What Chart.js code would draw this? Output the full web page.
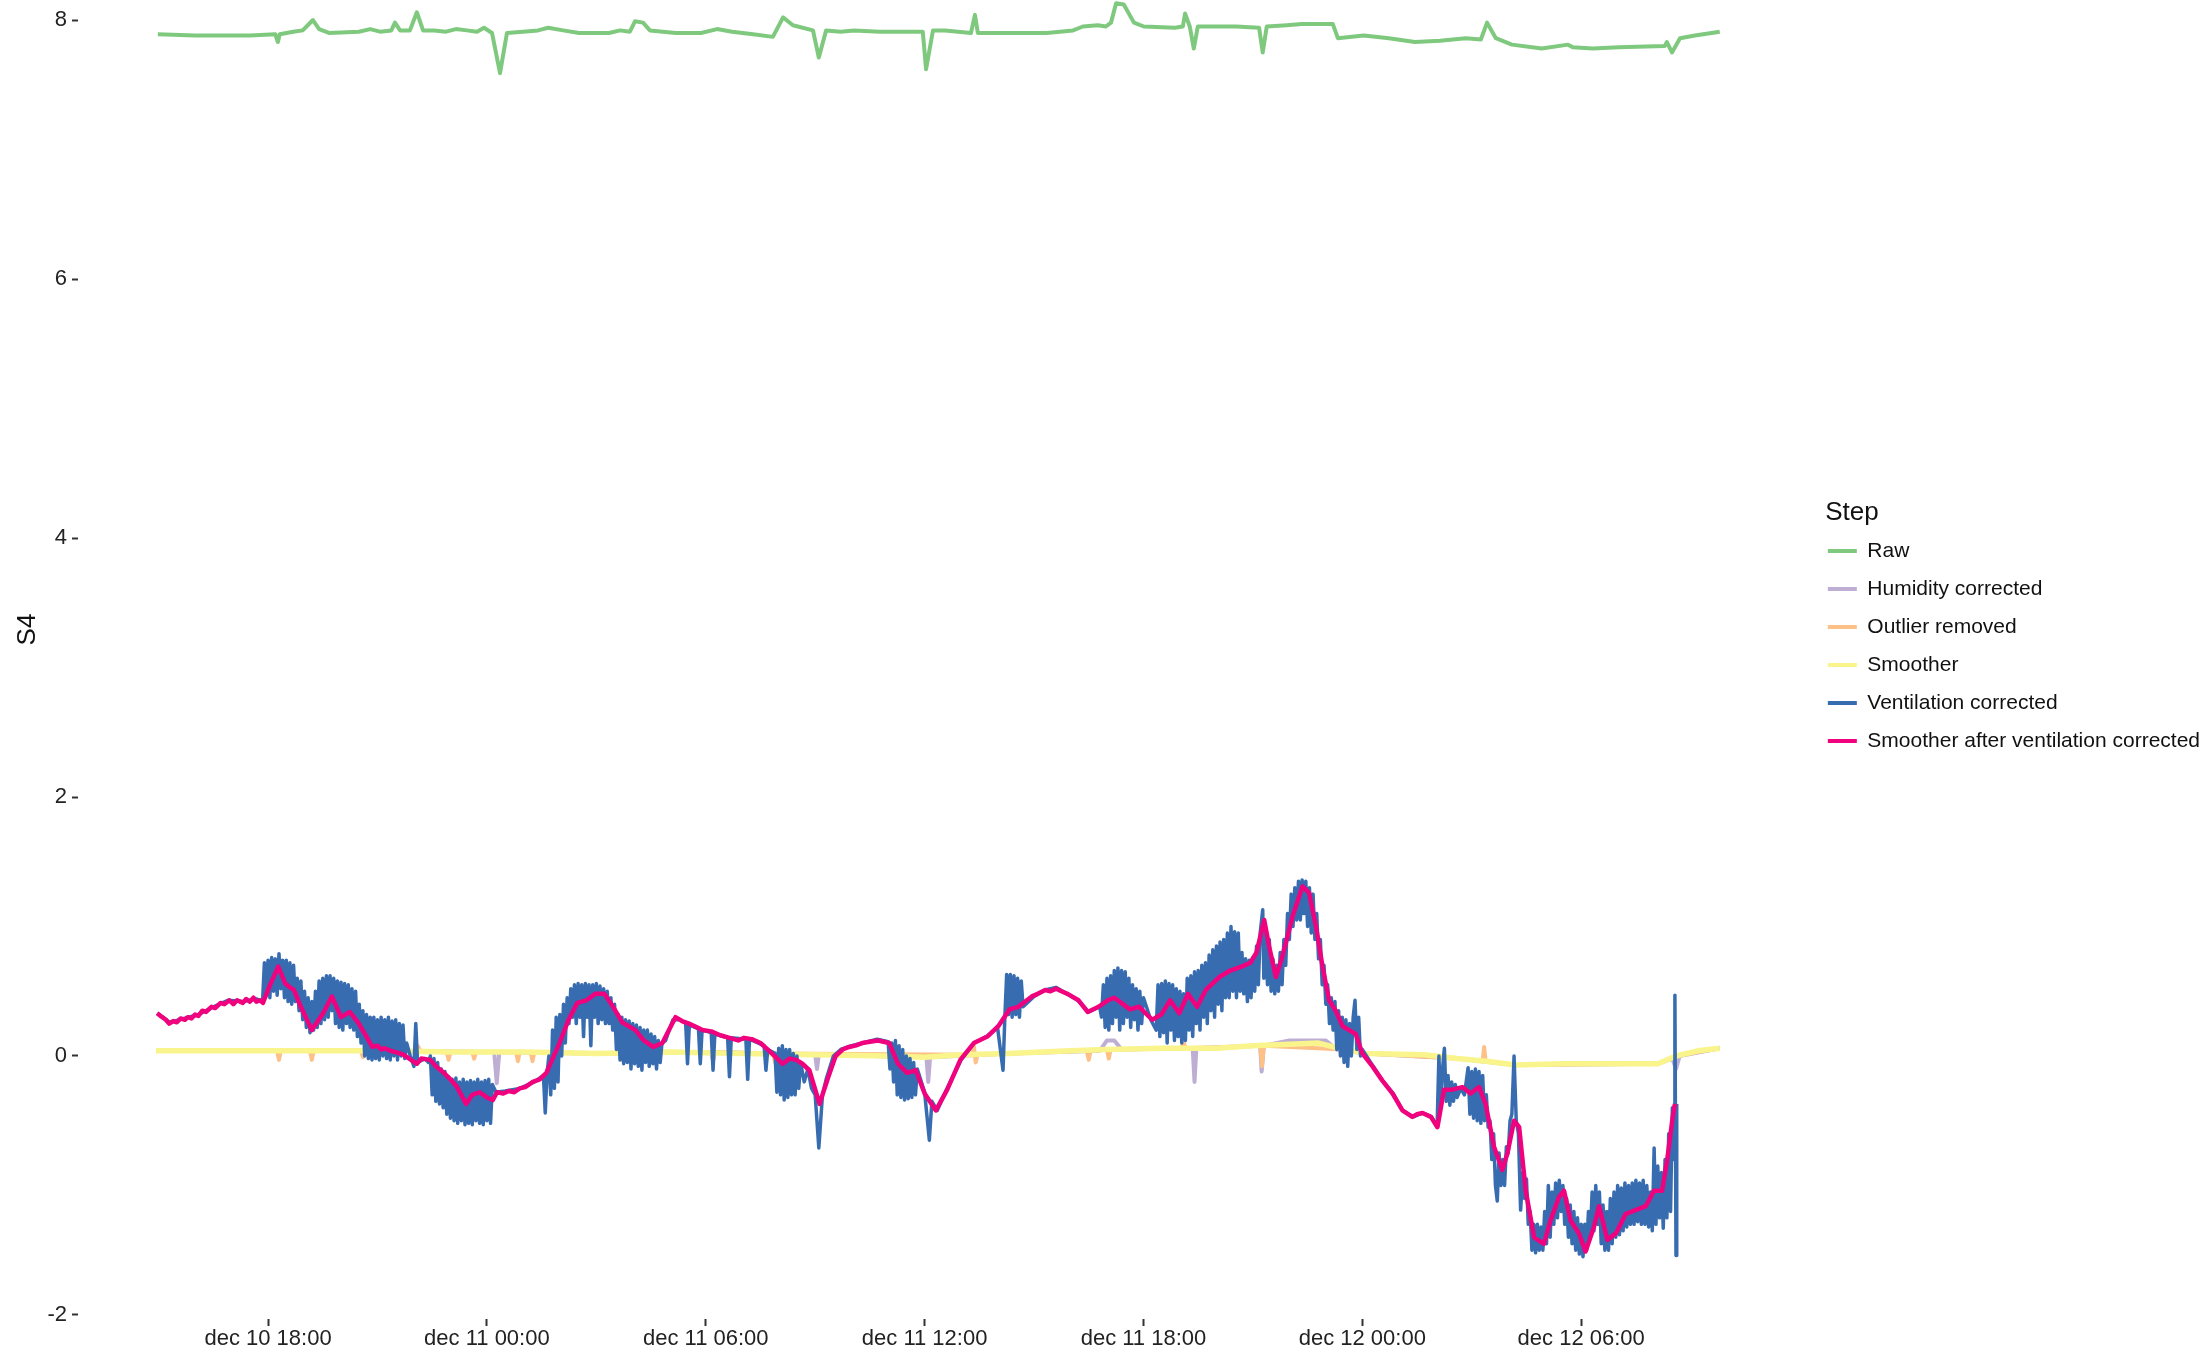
<!DOCTYPE html>
<html>
<head>
<meta charset="utf-8">
<title>S4 processing steps</title>
<script src="https://cdn.jsdelivr.net/npm/chart.js@4.4.1/dist/chart.umd.min.js"></script>
<style>
  html, body { margin: 0; padding: 0; background: #fff; overflow: hidden; }
  #wrap { position: absolute; left: 0; top: -90px; width: 2210px; height: 1444px; }
</style>
</head>
<body>
<div id="wrap"><canvas id="chart" width="2210" height="1444"></canvas></div>
<script>
// hours counted from dec 10 00:00
var xTickHours = [18, 24, 30, 36, 42, 48, 54];
var xTickLabels = ['dec 10 18:00', 'dec 11 00:00', 'dec 11 06:00', 'dec 11 12:00',
                   'dec 11 18:00', 'dec 12 00:00', 'dec 12 06:00'];
var yTicks = [-2, 0, 2, 4, 6, 8];
var xMin = 12.79, xMax = 59.94;
var yMin = -2.031, yMax = 8.618;

var stepNames = ['Raw', 'Humidity corrected', 'Outlier removed', 'Smoother',
                 'Ventilation corrected', 'Smoother after ventilation corrected'];
// Accent palette
var stepColors = ['#7fc97f', '#beaed4', '#fdc086', '#f9f48c', '#386cb0', '#f0027f'];

// [hour, value]
var raw = [
  [14.98,7.89],[16.0,7.88],[17.5,7.88],[18.2,7.89],[18.27,7.83],[18.32,7.89],[18.69,7.91],[18.95,7.92],[19.23,8.0],
  [19.4,7.93],[19.67,7.9],[20.49,7.91],[20.8,7.93],[21.07,7.91],[21.38,7.92],[21.48,7.98],[21.62,7.92],[21.89,7.92],
  [22.08,8.06],[22.25,7.92],[22.55,7.92],[22.88,7.91],[23.15,7.93],[23.45,7.92],[23.73,7.91],[23.92,7.94],[24.14,7.9],
  [24.36,7.59],[24.55,7.9],[24.99,7.91],[25.4,7.92],[25.68,7.94],[26.09,7.92],[26.53,7.9],[27.35,7.9],[27.65,7.92],
  [27.92,7.91],[28.06,7.99],[28.28,7.98],[28.47,7.92],[29.18,7.9],[29.87,7.9],[30.31,7.93],[30.72,7.91],
  [31.3,7.89],[31.84,7.87],[32.12,8.02],[32.39,7.96],[32.94,7.92],[33.1,7.71],[33.3,7.92],[33.7,7.91],[34.06,7.92],
  [34.78,7.91],[35.46,7.91],[35.95,7.91],[36.04,7.62],[36.23,7.92],[36.56,7.92],[37.27,7.9],[37.38,8.04],[37.46,7.9],
  [38.26,7.9],[39.35,7.9],[40.07,7.92],[40.34,7.95],[40.75,7.96],[40.97,7.95],[41.11,7.98],[41.25,8.13],
  [41.46,8.12],[41.74,7.98],[42.01,7.95],[42.86,7.94],[43.08,7.95],[43.14,8.05],[43.27,7.95],[43.38,7.78],
  [43.49,7.95],[44.54,7.95],[45.17,7.94],[45.27,7.75],[45.38,7.95],[45.93,7.96],[46.34,7.97],[47.19,7.97],
  [47.33,7.86],[48.04,7.88],[48.73,7.86],[49.44,7.83],[50.13,7.84],[50.84,7.86],[51.25,7.85],[51.42,7.98],
  [51.66,7.86],[52.1,7.81],[52.92,7.78],[53.64,7.81],[53.77,7.79],[54.32,7.78],[55.03,7.79],[56.29,7.8],
  [56.35,7.83],[56.49,7.75],[56.71,7.86],[57.12,7.88],[57.8,7.91]
];

var humidityCorrected = [
  [14.93,0.04],[18.0,0.04],[21.0,0.04],[24.2,0.03],[24.27,-0.21],[24.34,0.03],[27.0,0.02],[30.0,0.03],
  [33.0,0.01],[33.05,-0.1],[33.1,0.01],[36.05,-0.01],[36.1,-0.2],[36.15,-0.01],[38.3,0.02],[40.8,0.04],
  [41.0,0.12],[41.2,0.12],[41.4,0.05],[43.35,0.06],[43.4,-0.2],[43.45,0.06],[45.2,0.08],[45.24,-0.12],
  [45.3,0.08],[46.0,0.12],[47.0,0.12],[47.3,0.05],[48.1,0.02],[50.6,-0.02],[52.2,-0.07],[56.1,-0.06],
  [56.5,-0.02],[56.6,-0.1],[56.7,0.0],[57.8,0.06]
];

var outlierRemoved = [
  [14.93,0.04],[18.25,0.04],[18.3,-0.03],[18.35,0.04],[19.15,0.04],[19.2,-0.03],[19.25,0.04],[20.55,0.04],
  [20.6,-0.01],[20.65,0.04],[22.0,0.03],[22.1,0.08],[22.2,0.03],[22.9,0.03],[22.95,-0.03],[23.0,0.03],
  [23.6,0.03],[23.65,-0.02],[23.7,0.03],[24.8,0.03],[24.85,-0.04],[24.9,0.03],[25.2,0.03],[25.25,-0.04],
  [25.3,0.03],[27.65,0.02],[27.7,-0.03],[27.75,0.02],[30.15,0.03],[30.2,-0.04],[30.25,0.03],[31.85,0.02],
  [31.9,-0.05],[31.95,0.02],[37.3,0.01],[37.35,0.08],[37.4,-0.05],[37.45,0.01],[40.45,0.04],[40.5,-0.03],
  [40.55,0.04],[41.0,0.05],[41.05,-0.02],[41.1,0.05],[43.05,0.06],[43.1,0.11],[43.15,0.06],[45.2,0.08],
  [45.25,-0.08],[45.3,0.08],[47.5,0.05],[48.1,0.02],[50.6,-0.02],[51.3,-0.04],[51.34,0.07],[51.38,-0.04],
  [52.2,-0.07],[56.1,-0.06],[56.6,0.0],[57.8,0.06]
];

var smoother = [
  [14.93,0.04],[17,0.04],[19,0.04],[21,0.04],[23,0.03],[25,0.03],[27,0.02],[29,0.03],[31,0.02],[33,0.01],
  [35,0.0],[36,-0.01],[37,0.01],[38.3,0.02],[40,0.04],[41,0.05],[42.5,0.06],[44,0.06],[45,0.08],[46,0.09],
  [46.8,0.1],[47.5,0.05],[48.1,0.02],[49.7,0.01],[50.6,-0.02],[51.4,-0.04],[52.2,-0.07],[53.5,-0.06],
  [55,-0.06],[56.1,-0.06],[56.6,0.0],[57.2,0.04],[57.8,0.06]
];

var ventilationCorrected = [
  [14.96,0.33],[15.3,0.26],[15.7,0.29],[16.1,0.32],[16.5,0.38],[16.9,0.43],[17.3,0.42],[17.7,0.44],
  [17.85,0.42],[17.9,0.72],[17.95,0.48],[18.0,0.74],[18.05,0.45],[18.1,0.76],[18.15,0.5],[18.2,0.75],
  [18.25,0.47],[18.3,0.79],[18.35,0.52],[18.4,0.74],[18.45,0.45],[18.5,0.74],[18.55,0.42],[18.6,0.72],
  [18.65,0.4],[18.7,0.7],[18.75,0.42],[18.8,0.6],[18.85,0.35],[18.9,0.58],[18.95,0.28],[19.0,0.5],
  [19.05,0.22],[19.1,0.45],[19.15,0.18],[19.2,0.42],[19.25,0.2],[19.3,0.5],[19.35,0.22],[19.4,0.58],
  [19.45,0.25],[19.5,0.6],[19.55,0.28],[19.6,0.62],[19.65,0.3],[19.7,0.62],[19.75,0.35],[19.8,0.6],
  [19.85,0.25],[19.9,0.58],[19.95,0.22],[20.0,0.57],[20.05,0.2],[20.1,0.56],[20.15,0.25],[20.2,0.55],
  [20.25,0.22],[20.3,0.52],[20.35,0.2],[20.4,0.5],[20.45,0.15],[20.5,0.4],[20.55,0.1],[20.6,0.35],
  [20.65,0.0],[20.7,0.32],[20.75,-0.02],[20.8,0.3],[20.85,-0.03],[20.9,0.3],[20.95,-0.02],[21.0,0.28],
  [21.05,-0.03],[21.1,0.3],[21.15,0.0],[21.2,0.28],[21.25,-0.02],[21.3,0.3],[21.35,-0.03],[21.4,0.27],
  [21.45,0.0],[21.5,0.28],[21.55,-0.03],[21.6,0.25],[21.65,0.0],[21.7,0.24],[21.75,-0.02],[21.8,0.1],
  [21.9,0.0],[22.0,-0.08],[22.05,0.25],[22.1,-0.05],[22.3,-0.02],[22.4,-0.05],[22.45,0.0],[22.5,-0.3],
  [22.55,-0.02],[22.6,-0.35],[22.65,-0.05],[22.7,-0.37],[22.75,-0.1],[22.8,-0.4],[22.85,-0.12],[22.9,-0.45],
  [22.95,-0.16],[23.0,-0.48],[23.05,-0.18],[23.1,-0.5],[23.15,-0.17],[23.2,-0.52],[23.25,-0.2],[23.3,-0.5],
  [23.35,-0.18],[23.4,-0.53],[23.45,-0.2],[23.5,-0.52],[23.55,-0.19],[23.6,-0.53],[23.65,-0.2],[23.7,-0.5],
  [23.75,-0.18],[23.8,-0.52],[23.85,-0.2],[23.9,-0.53],[23.95,-0.19],[24.0,-0.5],[24.05,-0.18],[24.1,-0.52],
  [24.15,-0.22],[24.25,-0.28],[24.5,-0.27],[24.9,-0.25],[25.3,-0.2],[25.55,-0.15],[25.6,-0.44],[25.65,-0.13],
  [25.7,0.0],[25.75,-0.3],[25.8,0.2],[25.85,-0.25],[25.9,0.3],[25.95,-0.2],[26.0,0.32],[26.05,0.0],
  [26.1,0.4],[26.15,0.1],[26.2,0.45],[26.25,0.25],[26.3,0.52],[26.35,0.3],[26.4,0.55],[26.45,0.25],
  [26.5,0.56],[26.55,0.3],[26.6,0.55],[26.65,0.15],[26.7,0.56],[26.75,0.3],[26.8,0.55],[26.85,0.08],
  [26.9,0.55],[26.95,0.3],[27.0,0.56],[27.05,0.25],[27.1,0.54],[27.15,0.28],[27.2,0.52],[27.25,0.25],
  [27.3,0.5],[27.35,0.25],[27.4,0.45],[27.45,0.2],[27.5,0.4],[27.55,0.05],[27.6,0.32],[27.65,-0.03],
  [27.7,0.3],[27.75,-0.06],[27.8,0.28],[27.85,-0.05],[27.9,0.27],[27.95,-0.1],[28.0,0.25],[28.05,-0.06],
  [28.1,0.24],[28.15,-0.08],[28.2,0.22],[28.25,-0.11],[28.3,0.2],[28.35,-0.05],[28.4,0.2],[28.45,-0.08],
  [28.5,0.17],[28.55,-0.06],[28.6,0.15],[28.65,-0.1],[28.7,0.12],[28.75,-0.05],[28.8,0.1],[28.9,0.12],
  [29.1,0.28],[29.3,0.28],[29.45,0.25],[29.5,-0.06],[29.55,0.24],[29.8,0.21],[29.85,-0.06],[29.9,0.2],
  [30.15,0.18],[30.2,-0.11],[30.25,0.17],[30.6,0.14],[30.65,-0.16],[30.7,0.14],[31.1,0.13],[31.15,-0.18],
  [31.2,0.13],[31.6,0.08],[31.65,-0.11],[31.7,0.05],[31.9,0.02],[31.95,-0.28],[32.0,0.06],[32.05,-0.3],
  [32.1,0.08],[32.15,-0.34],[32.2,0.05],[32.25,-0.32],[32.3,0.05],[32.35,-0.3],[32.4,0.02],[32.45,-0.3],
  [32.5,0.0],[32.55,-0.25],[32.6,-0.05],[32.7,-0.2],[32.8,-0.1],[32.9,-0.25],[33.0,-0.3],[33.1,-0.71],
  [33.2,-0.3],[33.3,-0.18],[33.5,0.0],[33.7,0.05],[34.0,0.08],[34.3,0.1],[34.7,0.13],[35.0,0.11],
  [35.05,-0.1],[35.1,0.1],[35.15,-0.2],[35.2,0.12],[35.25,-0.3],[35.3,0.08],[35.35,-0.32],[35.4,0.05],
  [35.45,-0.34],[35.5,0.0],[35.55,-0.33],[35.6,-0.02],[35.65,-0.32],[35.7,-0.05],[35.75,-0.3],[35.8,-0.1],
  [36.0,-0.28],[36.13,-0.65],[36.2,-0.35],[36.35,-0.42],[36.6,-0.26],[37.0,-0.03],[37.35,0.1],[37.7,0.15],
  [38.0,0.22],[38.15,-0.11],[38.2,0.3],[38.25,0.63],[38.3,0.32],[38.35,0.63],[38.4,0.3],[38.45,0.62],
  [38.5,0.32],[38.55,0.6],[38.6,0.3],[38.65,0.58],[38.7,0.38],[39.0,0.46],[39.3,0.51],[39.6,0.53],
  [39.9,0.48],[40.2,0.43],[40.5,0.34],[40.8,0.38],[40.85,0.3],[40.9,0.55],[40.95,0.22],[41.0,0.6],
  [41.05,0.2],[41.1,0.62],[41.15,0.25],[41.2,0.66],[41.25,0.3],[41.3,0.68],[41.35,0.2],[41.4,0.66],
  [41.45,0.25],[41.5,0.65],[41.55,0.3],[41.6,0.6],[41.65,0.22],[41.7,0.55],[41.75,0.28],[41.8,0.52],
  [41.85,0.2],[41.9,0.5],[41.95,0.25],[42.0,0.45],[42.2,0.28],[42.35,0.2],[42.4,0.55],[42.45,0.15],
  [42.5,0.56],[42.55,0.18],[42.6,0.58],[42.65,0.1],[42.7,0.56],[42.75,0.2],[42.8,0.55],[42.85,0.12],
  [42.9,0.52],[42.95,0.15],[43.0,0.5],[43.05,0.1],[43.1,0.48],[43.15,0.12],[43.2,0.6],[43.25,0.2],
  [43.3,0.62],[43.35,0.15],[43.4,0.65],[43.45,0.25],[43.5,0.66],[43.55,0.2],[43.6,0.7],[43.65,0.3],
  [43.7,0.72],[43.75,0.25],[43.8,0.78],[43.85,0.35],[43.9,0.82],[43.95,0.3],[44.0,0.85],[44.05,0.4],
  [44.1,0.88],[44.15,0.35],[44.2,0.9],[44.25,0.45],[44.3,0.95],[44.35,0.45],[44.4,1.0],[44.45,0.5],
  [44.5,0.96],[44.55,0.45],[44.6,0.95],[44.65,0.5],[44.7,0.8],[44.75,0.48],[44.8,0.75],[44.85,0.42],
  [44.9,0.74],[44.95,0.45],[45.0,0.76],[45.05,0.5],[45.1,0.85],[45.15,0.55],[45.2,0.95],[45.27,1.13],
  [45.3,0.6],[45.35,0.95],[45.4,0.55],[45.45,0.9],[45.5,0.5],[45.55,0.75],[45.6,0.48],[45.65,0.7],
  [45.7,0.5],[45.75,0.8],[45.8,0.55],[45.85,0.9],[45.9,0.7],[45.95,1.1],[46.0,0.9],[46.05,1.25],
  [46.1,1.0],[46.15,1.3],[46.2,1.05],[46.25,1.35],[46.3,1.05],[46.35,1.36],[46.4,1.1],[46.45,1.35],
  [46.5,1.0],[46.55,1.3],[46.6,0.95],[46.65,1.25],[46.7,0.9],[46.75,1.1],[46.8,0.75],[46.85,0.9],
  [46.9,0.55],[46.95,0.7],[47.0,0.4],[47.05,0.55],[47.1,0.25],[47.15,0.45],[47.2,0.2],[47.25,0.42],
  [47.3,0.05],[47.35,0.35],[47.4,0.0],[47.45,0.3],[47.5,-0.05],[47.55,0.28],[47.6,-0.08],[47.65,0.25],
  [47.7,0.0],[47.75,0.3],[47.8,0.43],[47.85,0.05],[47.9,0.3],[47.95,0.0],[48.0,0.05],[48.3,-0.08],
  [48.55,-0.19],[48.85,-0.29],[49.1,-0.42],[49.4,-0.47],[49.65,-0.44],[49.9,-0.47],[50.05,-0.55],
  [50.1,0.0],[50.15,-0.4],[50.2,-0.1],[50.25,0.06],[50.3,-0.35],[50.35,-0.15],[50.4,-0.38],[50.45,-0.2],
  [50.5,-0.35],[50.55,-0.22],[50.6,-0.32],[50.7,-0.25],[50.8,-0.3],[50.9,-0.09],[50.95,-0.45],[51.0,-0.12],
  [51.05,-0.48],[51.1,-0.1],[51.15,-0.5],[51.2,-0.12],[51.25,-0.52],[51.3,-0.15],[51.35,-0.5],[51.4,-0.3],
  [51.45,-0.55],[51.5,-0.5],[51.55,-0.8],[51.6,-0.6],[51.65,-1.0],[51.7,-1.12],[51.75,-0.75],[51.8,-1.0],
  [51.85,-0.8],[51.9,-1.0],[51.95,-0.7],[52.0,-0.75],[52.05,-0.5],[52.1,-0.45],[52.16,0.0],[52.22,-0.5],
  [52.28,-0.6],[52.34,-1.19],[52.4,-0.9],[52.45,-1.1],[52.5,-0.95],[52.55,-1.3],[52.6,-1.2],[52.65,-1.5],
  [52.7,-1.3],[52.75,-1.52],[52.8,-1.3],[52.85,-1.5],[52.9,-1.32],[52.95,-1.5],[53.0,-1.2],[53.05,-1.45],
  [53.1,-1.0],[53.15,-1.4],[53.2,-1.05],[53.25,-1.3],[53.3,-0.98],[53.35,-1.25],[53.4,-0.96],[53.45,-1.2],
  [53.5,-1.0],[53.55,-1.3],[53.6,-1.1],[53.65,-1.4],[53.7,-1.15],[53.75,-1.45],[53.8,-1.2],[53.85,-1.5],
  [53.9,-1.25],[53.95,-1.53],[54.0,-1.3],[54.05,-1.55],[54.1,-1.3],[54.15,-1.5],[54.2,-1.2],[54.25,-1.4],
  [54.3,-1.05],[54.35,-1.35],[54.4,-1.0],[54.45,-1.3],[54.5,-1.05],[54.55,-1.45],[54.6,-1.15],[54.65,-1.5],
  [54.7,-1.2],[54.75,-1.5],[54.8,-1.1],[54.85,-1.45],[54.9,-1.05],[54.95,-1.4],[55.0,-1.0],[55.05,-1.38],
  [55.1,-1.02],[55.15,-1.35],[55.2,-0.98],[55.25,-1.32],[55.3,-1.0],[55.35,-1.3],[55.4,-0.98],[55.45,-1.3],
  [55.5,-0.96],[55.55,-1.28],[55.6,-0.98],[55.65,-1.3],[55.7,-0.96],[55.75,-1.3],[55.8,-1.0],[55.85,-1.32],
  [55.9,-1.05],[55.95,-1.35],[56.0,-0.71],[56.05,-1.3],[56.1,-0.85],[56.15,-1.25],[56.2,-0.9],[56.25,-1.33],
  [56.3,-0.8],[56.35,-1.25],[56.4,-0.6],[56.45,-1.2],[56.5,-0.4],[56.55,-0.8],[56.57,0.47],[56.6,-1.54],
  [56.62,-0.37]
];

var smootherAfterVentilation = [
  [14.96,0.33],[15.05,0.31],[15.1,0.3],[15.2,0.28],[15.29,0.25],[15.4,0.27],[15.5,0.26],[15.6,0.29],
  [15.72,0.28],[15.8,0.3],[15.9,0.29],[16.0,0.32],[16.09,0.31],[16.2,0.35],[16.3,0.34],[16.45,0.38],
  [16.55,0.37],[16.7,0.41],[16.8,0.4],[16.94,0.43],[17.05,0.4],[17.15,0.43],[17.31,0.41],[17.4,0.44],
  [17.5,0.42],[17.6,0.45],[17.68,0.42],[17.78,0.43],[17.86,0.41],[18.04,0.54],[18.28,0.69],[18.47,0.56],
  [18.6,0.53],[18.71,0.51],[18.9,0.38],[19.2,0.2],[19.51,0.33],[19.75,0.46],[20.0,0.3],[20.24,0.34],
  [20.49,0.25],[20.86,0.07],[21.0,0.08],[21.1,0.05],[21.2,0.06],[21.35,0.04],[21.5,0.03],[21.71,0.01],
  [22.08,-0.06],[22.2,-0.02],[22.45,-0.03],[22.6,-0.08],[22.82,-0.13],[23.0,-0.18],[23.18,-0.24],
  [23.43,-0.37],[23.6,-0.3],[23.8,-0.28],[24.0,-0.32],[24.16,-0.34],[24.28,-0.28],[24.45,-0.29],
  [24.6,-0.27],[24.75,-0.28],[24.9,-0.25],[25.05,-0.24],[25.26,-0.2],[25.45,-0.18],[25.63,-0.13],
  [25.99,0.1],[26.24,0.28],[26.48,0.41],[26.73,0.43],[26.97,0.48],[27.22,0.48],[27.46,0.38],[27.71,0.26],
  [28.07,0.2],[28.3,0.12],[28.56,0.07],[28.81,0.1],[29.17,0.3],[29.35,0.27],[29.54,0.25],[29.7,0.23],
  [29.91,0.2],[30.15,0.19],[30.4,0.16],[30.65,0.14],[30.89,0.12],[31.05,0.14],[31.26,0.13],[31.5,0.1],
  [31.74,0.04],[32.11,-0.06],[32.3,-0.02],[32.48,-0.03],[32.65,-0.06],[32.84,-0.11],[33.12,-0.37],
  [33.35,-0.17],[33.56,0.0],[33.75,0.05],[33.93,0.07],[34.1,0.08],[34.29,0.1],[34.5,0.11],[34.72,0.12],
  [35.03,0.1],[35.27,-0.06],[35.52,-0.13],[35.76,-0.11],[36.0,-0.29],[36.31,-0.42],[36.62,-0.26],
  [36.98,-0.03],[37.35,0.1],[37.72,0.15],[38.02,0.23],[38.33,0.36],[38.57,0.38],[38.94,0.46],[39.1,0.48],
  [39.31,0.51],[39.45,0.5],[39.61,0.52],[39.75,0.5],[39.92,0.48],[40.22,0.43],[40.47,0.34],[40.77,0.38],
  [41.02,0.43],[41.2,0.45],[41.39,0.41],[41.63,0.36],[41.88,0.38],[42.24,0.28],[42.49,0.32],[42.73,0.43],
  [42.98,0.33],[43.22,0.48],[43.47,0.38],[43.71,0.51],[44.08,0.61],[44.38,0.66],[44.69,0.69],[44.93,0.72],
  [45.1,0.8],[45.31,1.05],[45.45,0.84],[45.63,0.61],[45.81,0.77],[46.09,1.08],[46.36,1.31],[46.54,1.26],
  [46.73,1.0],[46.91,0.69],[47.09,0.43],[47.27,0.35],[47.46,0.23],[47.64,0.2],[47.82,0.17],[48.0,0.02],
  [48.28,-0.08],[48.55,-0.19],[48.83,-0.29],[49.1,-0.42],[49.37,-0.47],[49.5,-0.45],[49.65,-0.44],
  [49.88,-0.47],[50.06,-0.55],[50.24,-0.26],[50.47,-0.26],[50.74,-0.24],[50.97,-0.29],[51.2,-0.24],
  [51.38,-0.37],[51.61,-0.7],[51.84,-0.88],[51.98,-0.75],[52.16,-0.5],[52.3,-0.55],[52.48,-1.04],
  [52.71,-1.4],[52.98,-1.45],[53.16,-1.27],[53.39,-1.09],[53.53,-1.04],[53.71,-1.27],[53.94,-1.37],
  [54.12,-1.51],[54.35,-1.32],[54.49,-1.16],[54.72,-1.42],[54.95,-1.37],[55.22,-1.22],[55.49,-1.19],
  [55.77,-1.16],[56.0,-1.04],[56.22,-1.04],[56.36,-0.8],[56.5,-0.49],[56.57,-0.37]
];

var stepSeries = [raw, humidityCorrected, outlierRemoved, smoother,
                  ventilationCorrected, smootherAfterVentilation];
var stepWidths = [4, 4, 4, 5.5, 3.5, 4.5];

var FONT = '"Liberation Sans", Arial, Helvetica, sans-serif';

function toXY(series) {
  return series.map(function (p) { return { x: p[0], y: p[1] }; });
}

var datasets = stepSeries.map(function (s, i) {
  return {
    label: stepNames[i],
    data: toXY(s),
    borderColor: stepColors[i],
    backgroundColor: stepColors[i],
    borderWidth: stepWidths[i],
    borderJoinStyle: 'round',
    pointRadius: 0,
    tension: 0,
    // later steps drawn on top
    order: stepSeries.length - i
  };
});

Chart.defaults.font.family = FONT;

var ctx = document.getElementById('chart');
var chart = new Chart(ctx, {
  type: 'line',
  data: { datasets: datasets },
  options: {
    responsive: false,
    animation: false,
    devicePixelRatio: 1,
    layout: { padding: { top: 30, right: 0, bottom: 0, left: 0 } },
    plugins: {
      tooltip: { enabled: false },
      legend: {
        position: 'right',
        align: 'start',
        maxWidth: 450,
        title: {
          display: true,
          text: '  Step',
          position: 'start',
          color: '#111',
          font: { size: 26, lineHeight: 0.9 },
          padding: { top: 560, bottom: 0 }
        },
        labels: {
          color: '#222',
          font: { size: 21 },
          boxWidth: 29,
          boxHeight: 4,
          padding: 17,
          generateLabels: function (c) {
            return c.data.datasets.map(function (ds, i) {
              return {
                text: ds.label,
                fillStyle: ds.borderColor,
                strokeStyle: ds.borderColor,
                lineWidth: 0,
                hidden: false,
                datasetIndex: i
              };
            });
          }
        }
      }
    },
    scales: {
      x: {
        type: 'linear',
        min: xMin,
        max: xMax,
        border: { display: false },
        grid: { drawOnChartArea: false, drawTicks: true, tickLength: 7, tickColor: '#333', tickWidth: 2 },
        afterBuildTicks: function (scale) {
          scale.ticks = xTickHours.map(function (h) { return { value: h }; });
        },
        afterFit: function (scale) { scale.height = 35; },
        ticks: {
          color: '#222',
          font: { size: 22 },
          padding: 0,
          maxRotation: 0,
          autoSkip: false,
          callback: function (value) {
            var i = xTickHours.indexOf(value);
            return i < 0 ? '' : xTickLabels[i];
          }
        }
      },
      y: {
        type: 'linear',
        min: yMin,
        max: yMax,
        border: { display: false },
        grid: { drawOnChartArea: false, drawTicks: true, tickLength: 6, tickColor: '#333', tickWidth: 2 },
        afterBuildTicks: function (scale) {
          scale.ticks = yTicks.map(function (v) { return { value: v }; });
        },
        afterFit: function (scale) { scale.width = 78; },
        title: {
          display: true,
          text: 'S4',
          color: '#111',
          font: { size: 26 },
          padding: { top: 12, bottom: 0 }
        },
        ticks: { color: '#222', font: { size: 22 }, padding: 5 }
      },
      gap: {
        type: 'linear',
        position: 'right',
        display: true,
        border: { display: false },
        grid: { display: false },
        ticks: { display: false },
        afterFit: function (scale) { scale.width = 13; }
      }
    }
  }
});
</script>
</body>
</html>
